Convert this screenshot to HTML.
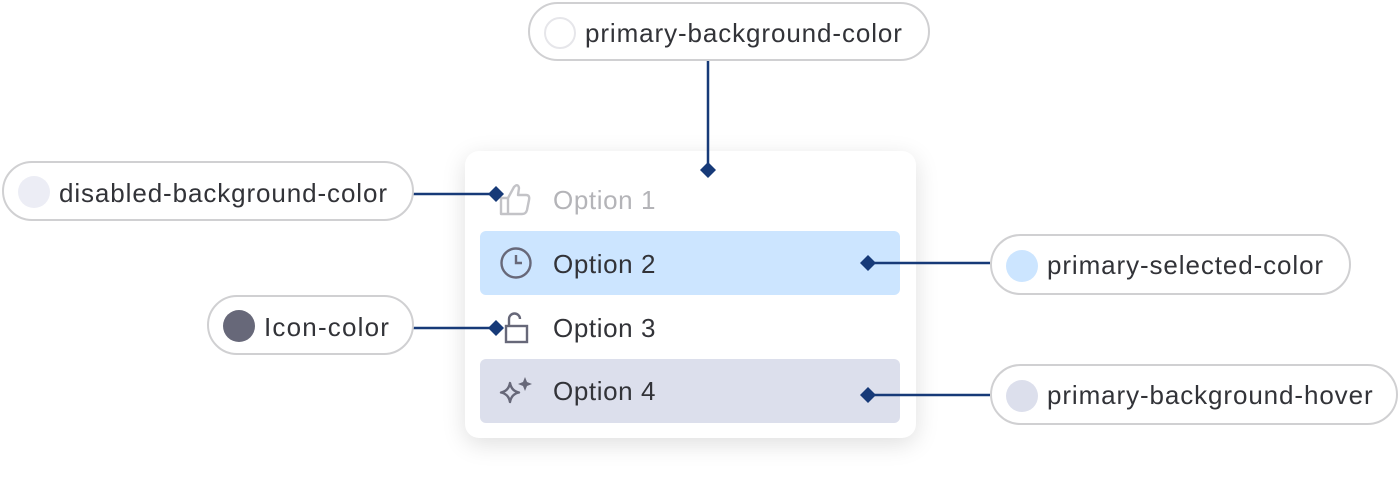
<!DOCTYPE html>
<html><head><meta charset="utf-8"><style>
body{margin:0;width:1398px;height:491px;background:#fff;position:relative;overflow:hidden;font-family:"Liberation Sans",sans-serif;}
.pill{position:absolute;height:58px;border:2px solid #d0d0d2;border-radius:31px;background:#fff;box-sizing:border-box;}
.pill .c{position:absolute;left:14px;top:13px;width:32px;height:32px;border-radius:50%;}
.pill span{position:absolute;left:55px;top:12px;font-size:26px;letter-spacing:0.9px;color:#323338;line-height:30px;white-space:nowrap;}
.card{position:absolute;left:465px;top:151px;width:451px;height:287px;background:#fff;border-radius:14px;box-shadow:0 6px 24px rgba(0,0,0,0.13);}
.row{position:absolute;left:480px;width:420px;height:64px;border-radius:6px;}
.opt{position:absolute;left:553px;font-size:26px;letter-spacing:0.6px;color:#323338;line-height:30px;}
</style></head><body>
<div class="card"></div>
<div class="row" style="top:231px;background:#cce5ff"></div>
<div class="row" style="top:359px;background:#dcdfec"></div>
<div class="opt" style="top:185px;color:#b4b4b8">Option 1</div>
<div class="opt" style="top:249px">Option 2</div>
<div class="opt" style="top:313px">Option 3</div>
<div class="opt" style="top:376px">Option 4</div>
<svg width="1398" height="491" style="position:absolute;left:0;top:0" fill="none">
<path d="M501 198 h7 v16 h-7z M508 198 l6 -11 q4 -4 5 1 l-1 7 h8 q4 0 3 5 l-2 10 q-1 4 -5 4 h-14" stroke="#c3c3c7" stroke-width="2.4" stroke-linejoin="round"/>
<circle cx="516" cy="263" r="14.5" stroke="#676879" stroke-width="2.4"/>
<path d="M516 255 v8 h6" stroke="#676879" stroke-width="2.4"/>
<rect x="506" y="326" width="21" height="16" stroke="#676879" stroke-width="2.4"/>
<path d="M509 326 v-7 a5.5 5.5 0 0 1 11 0" stroke="#676879" stroke-width="2.4"/>
<path d="M510 383 q1.5 8 9 9.5 q-7.5 1.5 -9 9.5 q-1.5 -8 -9 -9.5 q7.5 -1.5 9 -9.5z" stroke="#676879" stroke-width="2.4" stroke-linejoin="round"/>
<path d="M525 377 l2 5 l5 2 l-5 2 l-2 5 l-2 -5 l-5 -2 l5 -2z" fill="#676879"/>
<g stroke="#173a78" stroke-width="2.5">
<line x1="708" y1="61" x2="708" y2="170"/>
<line x1="413" y1="194" x2="496" y2="194"/>
<line x1="413" y1="328" x2="496" y2="328"/>
<line x1="868" y1="263" x2="990" y2="263"/>
<line x1="868" y1="395" x2="990" y2="395"/>
</g>
<g fill="#173a78">
<path d="M708 162 l8 8 l-8 8 l-8 -8z"/>
<path d="M496 186 l8 8 l-8 8 l-8 -8z"/>
<path d="M496 320 l8 8 l-8 8 l-8 -8z"/>
<path d="M868 255 l8 8 l-8 8 l-8 -8z"/>
<path d="M868 387 l8 8 l-8 8 l-8 -8z"/>
</g>
</svg>
<div class="pill" style="left:528px;top:2px;width:402px;height:59px"><div class="c" style="background:#fff;border:2px solid #e6e6ea;box-sizing:border-box"></div><span style="top:14px">primary-background-color</span></div>
<div class="pill" style="left:2px;top:161px;width:412px;height:60px"><div class="c" style="background:#ecedf5"></div><span style="top:15px">disabled-background-color</span></div>
<div class="pill" style="left:207px;top:295px;width:207px;height:60px"><div class="c" style="background:#676879"></div><span style="top:15px;letter-spacing:1.2px">Icon-color</span></div>
<div class="pill" style="left:990px;top:234px;width:361px;height:61px"><div class="c" style="background:#cce5ff;top:14px"></div><span style="top:14px">primary-selected-color</span></div>
<div class="pill" style="left:990px;top:364px;width:408px;height:61px"><div class="c" style="background:#dcdfec;top:14px"></div><span style="top:14px">primary-background-hover</span></div>
</body></html>
